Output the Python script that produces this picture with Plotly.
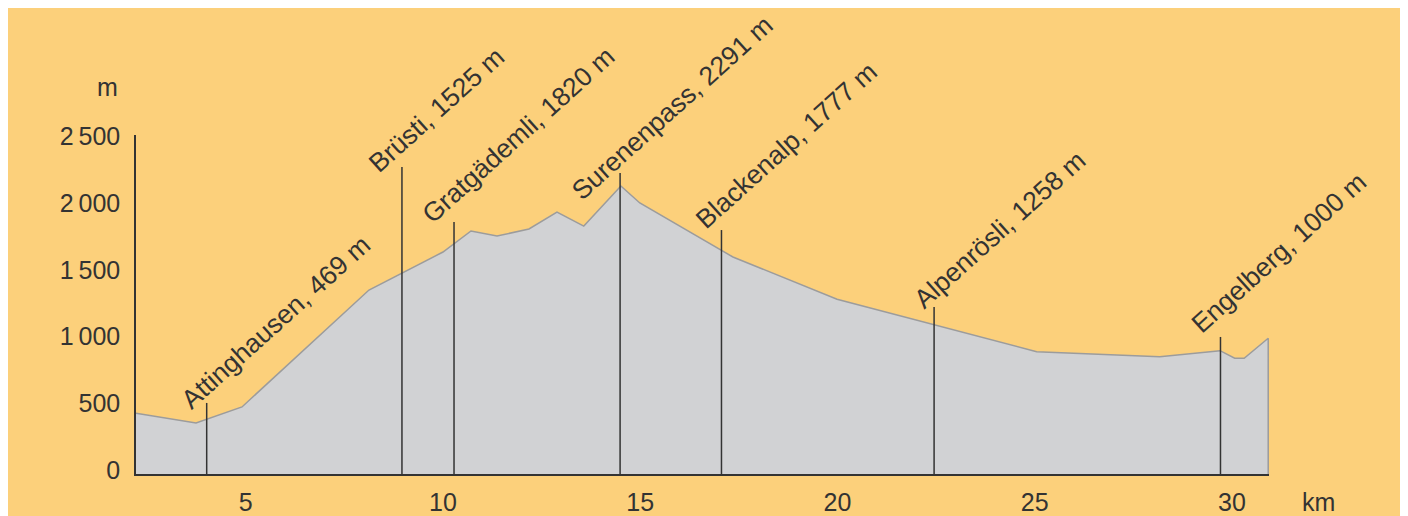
import plotly.graph_objects as go

# ---- data ----
profile_km = [2.218, 3.74, 4.905, 8.124, 10.0, 10.71, 11.37, 12.18, 12.89, 13.57,
              14.51, 14.99, 17.35, 19.99, 25.05, 28.17, 29.70, 30.07, 30.31, 30.92, 30.92]
profile_m = [455, 383, 503, 1380, 1665, 1823, 1785, 1838, 1965, 1860,
             2160, 2033, 1628, 1311, 917, 880, 925, 868, 868, 1018, 0]

place_names = ["Attinghausen, 469 m", "Brüsti, 1525 m", "Gratgädemli, 1820 m",
               "Surenenpass, 2291 m", "Blackenalp, 1777 m", "Alpenrösli, 1258 m",
               "Engelberg, 1000 m"]
place_km = [4.01, 8.96, 10.28, 14.49, 17.06, 22.45, 29.71]
place_line_top = [533, 2303, 1890, 2258, 1830, 1253, 1028]

x_tickvals = [5, 10, 15, 20, 25, 30]
x_ticktext = ["5", "10", "15", "20", "25", "30"]
y_tickvals = [0, 500, 1000, 1500, 2000, 2500]
y_ticktext = ["0", "500", "1\u2009000", "1\u2009500", "2\u2009000", "2\u2009500"]

X_RANGE = [2.218, 30.94]
Y_RANGE = [0, 2543]

# ---- style ----
ORANGE = "#FCD07B"
GRAY_FILL = "#D1D2D4"
GRAY_LINE = "#9C9C9C"
DARK = "#333333"
FONT = "Liberation Sans, Arial, sans-serif"
LINE_DROP = -22  # marker lines extend slightly below baseline
# per-label pixel offsets of the rotated text box from the top of its marker line
LABEL_XSHIFT = [-34, -42, -40, -57, -34, -29, -38]
LABEL_YSHIFT = [-14, -14, -10, -36, -7, -10, -5]

W, H = 1408, 508
ML, MR, MT, MB = 128, 147, 127, 42
PW, PH = W - ML - MR, H - MT - MB

fig = go.Figure()

fig.add_trace(go.Scatter(
    x=profile_km, y=profile_m, mode="lines", fill="tozeroy",
    fillcolor=GRAY_FILL, line=dict(color=GRAY_LINE, width=1.5),
    hoverinfo="skip", showlegend=False))

# marker lines
lx, ly = [], []
for k, t in zip(place_km, place_line_top):
    lx += [k, k, None]
    ly += [LINE_DROP, t, None]
fig.add_trace(go.Scatter(x=lx, y=ly, mode="lines",
                         line=dict(color=DARK, width=1.5),
                         hoverinfo="skip", showlegend=False, cliponaxis=False))

annotations = []
for name, k, t, dx, dy in zip(place_names, place_km, place_line_top, LABEL_XSHIFT, LABEL_YSHIFT):
    annotations.append(dict(
        x=k, y=t, xref="x", yref="y", text=name, showarrow=False,
        textangle=-42, xanchor="left", yanchor="bottom",
        xshift=dx, yshift=dy,
        font=dict(family=FONT, size=26.5, color=DARK)))

annotations.append(dict(x=(112 - ML) / PW, y=(MT + PH - 79) / PH, xref="paper", yref="paper",
                        text="m", showarrow=False, xanchor="right", yanchor="middle",
                        font=dict(family=FONT, size=25, color=DARK)))
annotations.append(dict(x=(1310 - ML) / PW, y=(MT + PH - 494) / PH, xref="paper", yref="paper",
                        text="km", showarrow=False, xanchor="center", yanchor="middle",
                        font=dict(family=FONT, size=25, color=DARK)))

fig.update_layout(
    template="none",
    width=W, height=H,
    margin=dict(l=ML, r=MR, t=MT, b=MB, pad=0, autoexpand=False),
    paper_bgcolor=ORANGE, plot_bgcolor=ORANGE,
    showlegend=False,
    annotations=annotations,
    font=dict(family=FONT, color=DARK),
    xaxis=dict(range=X_RANGE, showgrid=False, zeroline=False, showline=True, automargin=False,
               linecolor=DARK, linewidth=1.5, tickvals=x_tickvals, ticktext=x_ticktext,
               ticks="", ticklabelstandoff=5,
               tickfont=dict(family=FONT, size=25, color=DARK)),
    yaxis=dict(range=Y_RANGE, showgrid=False, zeroline=False, showline=True, automargin=False,
               linecolor=DARK, linewidth=1.5, tickvals=y_tickvals, ticktext=y_ticktext,
               ticks="", ticklabelstandoff=9, ticklabelshift=-4,
               tickfont=dict(family=FONT, size=25, color=DARK)),
)

fig.write_html("out.html")
